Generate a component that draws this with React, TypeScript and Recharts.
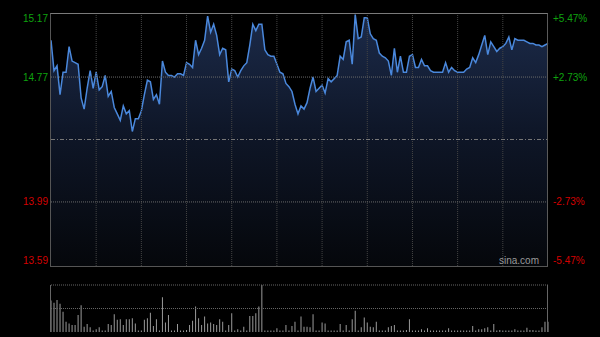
import React from 'react';
import { ComposedChart, Area, XAxis, YAxis, ReferenceLine, BarChart, Bar } from 'recharts';

const prices = [
  15.00, 14.81, 14.84, 14.66, 14.80, 14.80, 14.96, 14.87, 14.86, 14.85,
  14.64, 14.57, 14.70, 14.81, 14.70, 14.80, 14.69, 14.71, 14.78, 14.65,
  14.68, 14.58, 14.54, 14.50, 14.59, 14.54, 14.56, 14.43, 14.51, 14.51,
  14.56, 14.66, 14.75, 14.74, 14.63, 14.66, 14.60, 14.87, 14.80, 14.78,
  14.78, 14.77, 14.79, 14.79, 14.78, 14.86, 14.85, 14.83, 15.00, 14.91,
  14.95, 15.00, 15.15, 15.05, 15.10, 15.03, 14.91, 14.95, 14.94, 14.74,
  14.82, 14.81, 14.77, 14.81, 14.84, 14.86, 14.97, 15.10, 15.06, 15.10,
  15.10, 14.94, 14.91, 14.90, 14.90, 14.85, 14.80, 14.79, 14.73, 14.71,
  14.68, 14.60, 14.54, 14.59, 14.57, 14.61, 14.70, 14.77, 14.68, 14.70,
  14.72, 14.67, 14.76, 14.74, 14.76, 14.78, 14.90, 14.88, 14.99, 15.00,
  14.85, 15.16, 15.01, 15.02, 15.14, 15.14, 15.04, 15.01, 15.00, 14.92,
  14.90, 14.89, 14.87, 14.78, 14.95, 14.80, 14.90, 14.80, 14.80, 14.90,
  14.91, 14.83, 14.83, 14.88, 14.84, 14.84, 14.81, 14.80, 14.80, 14.80,
  14.80, 14.86, 14.80, 14.83, 14.81, 14.80, 14.80, 14.80, 14.82, 14.83,
  14.89, 14.86, 14.91, 14.97, 15.03, 14.91, 14.99, 14.96, 14.93, 14.95,
  14.96, 14.98, 15.02, 14.94, 15.01, 15.00, 15.00, 15.00, 14.99, 14.98,
  14.98, 14.97, 14.97, 14.96, 14.97, 14.98,
];

const volumes = [
  67, 62, 68, 60, 43, 22, 18, 15, 15, 36,
  57, 11, 17, 10, 3, 6, 10, 3, 3, 17,
  15, 38, 26, 27, 15, 27, 27, 29, 18, 3,
  3, 26, 29, 41, 13, 27, 3, 74, 20, 36,
  3, 3, 17, 3, 3, 4, 15, 24, 54, 29,
  15, 33, 18, 20, 17, 15, 27, 22, 3, 15,
  40, 3, 6, 3, 11, 3, 34, 34, 40, 54,
  100, 3, 3, 3, 3, 8, 3, 3, 15, 3,
  13, 22, 3, 33, 11, 11, 10, 38, 3, 3,
  20, 18, 3, 3, 3, 3, 17, 3, 15, 3,
  27, 45, 3, 10, 31, 20, 11, 10, 22, 3,
  3, 3, 10, 13, 15, 3, 3, 3, 4, 27,
  3, 3, 3, 6, 3, 8, 3, 3, 3, 3,
  3, 3, 8, 3, 3, 3, 3, 3, 3, 3,
  13, 3, 6, 6, 8, 10, 3, 17, 3, 4,
  3, 3, 3, 3, 6, 3, 3, 3, 9, 4,
  4, 3, 3, 10, 22, 22,
];

const priceTicks = [15.17, 14.77, 13.99, 13.59];
const pctTicks = ['+5.47%', '+2.73%', '-2.73%', '-5.47%'];
const prevClose = 14.38;
const gridIdx = [15, 30, 45, 60, 75, 90, 105, 120, 135, 150];

const data = prices.map((p, i) => ({ i, price: p, vol: volumes[i] }));

const GREEN = '#0fa30f';
const RED = '#d40000';
const FONT = '"Liberation Sans", Arial, sans-serif';

const tickDy = (v: number) => (v === priceTicks[0] ? 5 : v === priceTicks[priceTicks.length - 1] ? -6 : 0);

const LeftTick = (props: any) => {
  const { y, payload } = props;
  const v = payload.value as number;
  return (
    <text x={48} y={y + tickDy(v)} textAnchor="end" dominantBaseline="central" fill={v > prevClose ? GREEN : RED} fontSize={10} fontFamily={FONT}>
      {v.toFixed(2)}
    </text>
  );
};

const RightTick = (props: any) => {
  const { y, payload } = props;
  const v = payload.value as number;
  const label = pctTicks[priceTicks.indexOf(v)];
  return (
    <text x={553} y={y + tickDy(v)} textAnchor="start" dominantBaseline="central" fill={v > prevClose ? GREEN : RED} fontSize={10} fontFamily={FONT}>
      {label}
    </text>
  );
};

export default function App() {
  return (
    <div style={{ position: 'fixed', left: 0, top: 0, width: 600, height: 337, background: '#000', overflow: 'hidden' }}>
      <div style={{ position: 'absolute', left: 0, top: 0 }}>
        <ComposedChart width={600} height={280} data={data} margin={{ top: 13, right: 0, bottom: 14, left: 0 }}>
          <defs>
            <linearGradient id="fillGrad" x1="0" y1="0" x2="0" y2="1">
              <stop offset="0%" stopColor="#1c2b4a" />
              <stop offset="45%" stopColor="#0f1729" />
              <stop offset="100%" stopColor="#05070b" />
            </linearGradient>
          </defs>
          <XAxis dataKey="i" type="number" domain={[0, 165]} hide />
          <YAxis yAxisId="l" orientation="left" width={51} domain={[13.59, 15.17]} allowDataOverflow ticks={priceTicks} interval={0} axisLine={false} tickLine={false} tick={<LeftTick />} />
          <YAxis yAxisId="r" orientation="right" width={52} domain={[13.59, 15.17]} allowDataOverflow ticks={priceTicks} interval={0} axisLine={false} tickLine={false} tick={<RightTick />} />
          <Area yAxisId="l" type="linear" dataKey="price" stroke="#4a88dc" strokeWidth={1.5} fill="url(#fillGrad)" fillOpacity={1} dot={false} activeDot={false} isAnimationActive={false} />
          {gridIdx.map((g) => (
            <ReferenceLine key={g} yAxisId="l" x={g} stroke="#444" strokeDasharray="1 1" />
          ))}
          <ReferenceLine yAxisId="l" y={14.77} stroke="#6a6a6a" strokeDasharray="1 1" />
          <ReferenceLine yAxisId="l" y={13.99} stroke="#6a6a6a" strokeDasharray="1 1" />
          <ReferenceLine yAxisId="l" y={prevClose} stroke="#777" strokeDasharray="4 2 1 2" />
        </ComposedChart>
      </div>
      <div style={{ position: 'absolute', left: 50, top: 13, width: 496, height: 252, borderStyle: 'solid', borderWidth: 1, borderColor: '#7a7a7a #5a5a5a #555 #555', pointerEvents: 'none' }} />
      <div style={{ position: 'absolute', left: 499, top: 254, fontSize: 10, lineHeight: '13px', color: '#9a9a9a', fontFamily: FONT }}>sina.com</div>
      <div style={{ position: 'absolute', left: 0, top: 280 }}>
        <BarChart width={600} height={52} data={data} margin={{ top: 5, right: 52, bottom: 0, left: 51 }}>
          <XAxis dataKey="i" type="number" domain={[0, 165]} hide />
          <YAxis domain={[0, 100]} hide allowDataOverflow />
          <ReferenceLine y={100} stroke="#666" strokeDasharray="1 1" />
          <ReferenceLine y={50} stroke="#666" strokeDasharray="1 1" />
          <Bar dataKey="vol" fill="#9a9a9a" barSize={1} isAnimationActive={false} />
        </BarChart>
      </div>
      <div style={{ position: 'absolute', left: 50, top: 285, width: 1, height: 47, background: '#666' }} />
      <div style={{ position: 'absolute', left: 547, top: 285, width: 1, height: 47, background: '#666' }} />
    </div>
  );
}
